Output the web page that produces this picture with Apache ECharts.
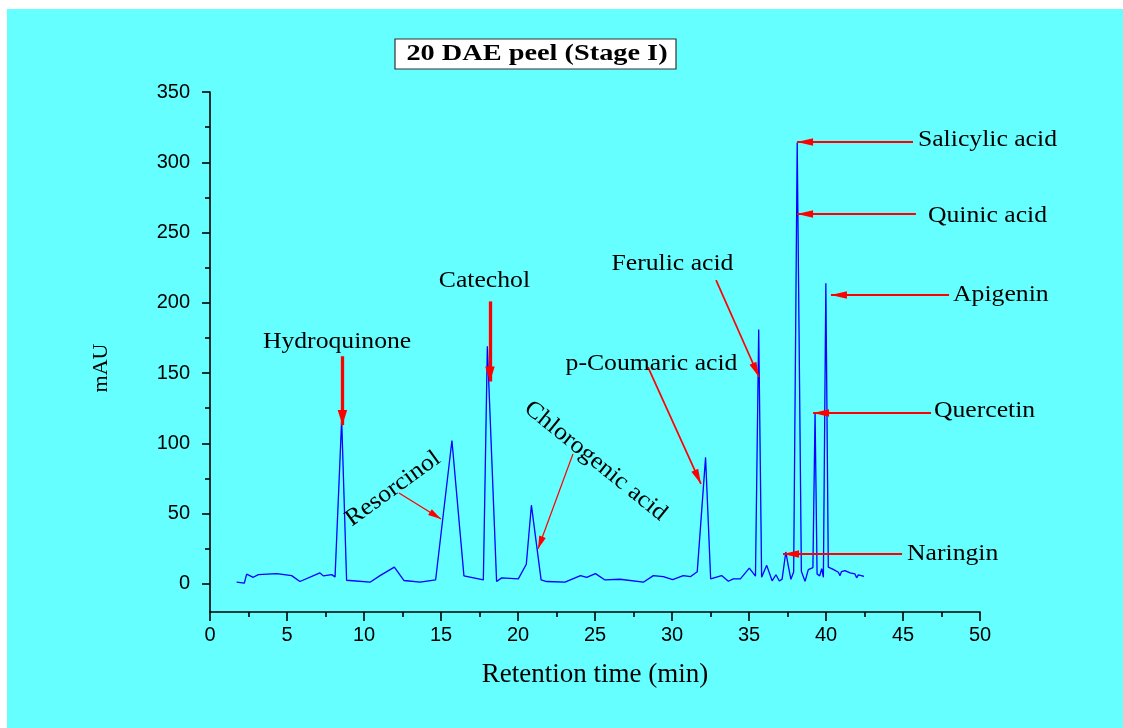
<!DOCTYPE html>
<html>
<head>
<meta charset="utf-8">
<title>20 DAE peel (Stage I)</title>
<script src="https://cdn.jsdelivr.net/npm/echarts@6/dist/echarts.min.js"></script>
<style>
  html, body { margin: 0; padding: 0; background: #ffffff; }
  #wrap { position: relative; width: 1123px; height: 728px; background: #ffffff; overflow: hidden; }
  #panel { position: absolute; left: 7px; top: 9px; right: 0; bottom: 0; background: #66ffff; }
  #chart { position: absolute; left: 0; top: 0; width: 1123px; height: 728px; }
</style>
</head>
<body>
<div id="wrap">
  <div id="panel"></div>
  <div id="chart"></div>
</div>
<script>
// HPLC trace: retention time (min) and detector response (mAU)
const retentionTime = [
  1.73, 2.23, 2.38, 2.81, 3.14, 4.33, 5.30, 5.84, 7.14, 7.36,
  7.90, 8.12, 8.55, 8.87, 10.39, 11.04, 11.97, 12.60, 13.64, 14.65,
  15.71, 16.49, 17.75, 18.01, 18.61, 18.94, 20.02, 20.54, 20.87, 21.50,
  21.86, 23.05, 24.06, 24.46, 25.03, 25.65, 26.62, 28.14, 28.79, 29.44,
  30.04, 30.73, 31.21, 31.64, 32.18, 32.51, 33.22, 33.66, 33.98, 34.44,
  35.02, 35.42, 35.63, 35.82, 36.15, 36.50, 36.75, 36.97, 37.15, 37.39,
  37.55, 37.72, 37.90, 38.13, 38.40, 38.64, 38.85, 39.15, 39.29, 39.42,
  39.59, 39.72, 39.83, 39.99, 40.15, 40.47, 40.80, 40.91, 41.00, 41.23,
  41.56, 41.88, 41.99, 42.10, 42.47
];
const absorbance = [
  1.2, 0.5, 6.9, 4.7, 6.6, 7.3, 5.9, 1.7, 7.8, 5.7,
  6.6, 5.0, 117, 2.6, 1.2, 5.9, 11.9, 2.4, 1.2, 2.8,
  102, 5.7, 2.8, 169, 1.7, 4.3, 3.6, 14, 56, 2.8,
  1.7, 1.2, 5.9, 4.7, 7.3, 2.8, 3.3, 1.2, 5.9, 5.2,
  3.1, 5.9, 5.2, 8.7, 90, 3.6, 5.9, 1.9, 3.6, 3.6,
  11.2, 5.5, 181, 4.7, 13.2, 2.2, 6.5, 2.1, 3.4, 22.7,
  13, 3.3, 8.5, 314, 9, 1.8, 10.2, 11.6, 122, 7.1,
  5.7, 10.9, 4.7, 214, 11.9, 10.3, 8.3, 5.9, 8.7, 9.5,
  7.8, 7.1, 4.3, 6.4, 5.4
];

// Axis tick values
const yMajorTicks = [0, 50, 100, 150, 200, 250, 300, 350];
const yMinorTicks = [25, 75, 125, 175, 225, 275, 325];

// Peak assignments in (min, mAU): label anchor, arrow tail, arrow tip
const compounds = [
  'Hydroquinone', 'Catechol', 'Resorcinol', 'Chlorogenic acid', 'p-Coumaric acid',
  'Ferulic acid', 'Salicylic acid', 'Quinic acid', 'Apigenin', 'Quercetin', 'Naringin'
];
const labelAnchor = [
  [8.25, 172], [17.82, 215.5], [11.88, 67.6], [25.03, 87.5], [28.67, 156.5],
  [30.03, 227.6], [45.97, 315.8], [46.62, 261.7], [48.25, 205.5], [47.01, 123], [45.26, 21.3]
];
const arrowTail = [
  [8.6, 162], [18.18, 201], [12.27, 64.7], [23.57, 92.5], [28.44, 154.3],
  [32.86, 216.2], [45.65, 314.4], [45.84, 263.2], [47.99, 205.5], [46.82, 121.6], [44.94, 21.3]
];
const arrowTip = [
  [8.6, 113], [18.18, 144], [15.0, 46.2], [21.3, 24.9], [31.88, 71.1],
  [35.65, 147.2], [38.12, 314.4], [38.12, 263.2], [40.32, 205.5], [39.16, 121.6], [37.21, 21.3]
];

// Drawing styles for the annotations
const SERIF = '"Liberation Serif", "Times New Roman", serif';
const SANS = '"Liberation Sans", Arial, sans-serif';
const arrowKind = ['bold', 'bold', 'thin', 'thin', 'mid', 'mid', 'flat', 'flat', 'flat', 'flat', 'flat'];
const arrowLook = {
  bold: { width: 3.3, head: [9.5, 15] },
  mid:  { width: 1.7, head: [7.5, 15] },
  thin: { width: 1.3, head: [7, 13] },
  flat: { width: 1.8, head: [7.5, 16] }
};
const labelLook = {
  'Resorcinol':       { align: 'center', rotate: 36 },
  'Chlorogenic acid': { align: 'center', rotate: -39 },
  'Salicylic acid':   { align: 'left', rotate: 0 },
  'Quinic acid':      { align: 'left', rotate: 0 },
  'Apigenin':         { align: 'left', rotate: 0 },
  'Quercetin':        { align: 'left', rotate: 0 },
  'Naringin':         { align: 'left', rotate: 0 }
};

const chart = echarts.init(document.getElementById('chart'), null, { renderer: 'canvas' });

const axisBlack = { color: '#000000', width: 1.6 };

const option = {
  animation: false,
  backgroundColor: 'transparent',
  grid: { left: 210, right: 143, top: 92, bottom: 116, containLabel: false },
  xAxis: {
    type: 'value',
    min: 0,
    max: 50,
    interval: 5,
    name: 'Retention time (min)',
    nameLocation: 'middle',
    nameGap: 49,
    nameTextStyle: { fontFamily: SERIF, fontSize: 27, color: '#000000' },
    axisLine: { onZero: false, lineStyle: axisBlack },
    axisTick: { length: 9, lineStyle: axisBlack },
    minorTick: { show: true, splitNumber: 2, length: 5, lineStyle: axisBlack },
    axisLabel: { color: '#000000', fontFamily: SANS, fontSize: 20, margin: 13 },
    splitLine: { show: false },
    minorSplitLine: { show: false }
  },
  yAxis: [
    {
      type: 'value',
      min: -20,
      max: 350,
      name: 'mAU',
      nameLocation: 'middle',
      nameRotate: 90,
      nameGap: 98,
      nameTextStyle: { fontFamily: SERIF, fontSize: 22, color: '#000000', padding: [0, 32, 0, 0] },
      axisLine: { show: true, onZero: false, lineStyle: axisBlack },
      axisTick: { show: true, customValues: yMajorTicks, length: 8, lineStyle: axisBlack },
      axisLabel: { customValues: yMajorTicks, color: '#000000', fontFamily: SANS, fontSize: 20, margin: 20 },
      splitLine: { show: false }
    },
    {
      type: 'value',
      min: -20,
      max: 350,
      position: 'left',
      axisLine: { show: false, onZero: false },
      axisTick: { show: true, customValues: yMinorTicks, length: 5, lineStyle: axisBlack },
      axisLabel: { show: false },
      splitLine: { show: false }
    }
  ],
  series: [
    {
      name: 'mAU',
      type: 'line',
      xAxisIndex: 0,
      yAxisIndex: 0,
      data: retentionTime.map((t, i) => [t, absorbance[i]]),
      showSymbol: false,
      symbol: 'none',
      lineStyle: { color: '#0000ff', width: 1.3 },
      z: 3,
      markLine: {
        silent: true,
        animation: false,
        symbol: ['none', 'triangle'],
        label: { show: false },
        emphasis: { disabled: true },
        data: compounds.map((name, i) => {
          const look = arrowLook[arrowKind[i]];
          return [
            {
              coord: arrowTail[i],
              symbolSize: look.head,
              lineStyle: { color: '#ff0000', width: look.width, type: 'solid' },
              itemStyle: { color: '#ff0000' }
            },
            {
              coord: arrowTip[i],
              symbolSize: look.head,
              // pull the head back so its point sits on the tip
              symbolOffset: [0, '50%'],
              itemStyle: { color: '#ff0000' }
            }
          ];
        })
      }
    }
  ]
};

chart.setOption(option);

// Compound names and the boxed title, placed through the axis scales
function placeLabels() {
  const texts = compounds.map((name, i) => {
    const p = chart.convertToPixel({ xAxisIndex: 0, yAxisIndex: 0 }, labelAnchor[i]);
    const look = labelLook[name] || { align: 'center', rotate: 0 };
    return {
      type: 'text',
      x: p[0],
      y: p[1],
      rotation: look.rotate * Math.PI / 180,
      scaleX: 1.07,
      silent: true,
      z: 10,
      style: {
        text: name,
        font: '24px ' + SERIF,
        fill: '#000000',
        align: look.align,
        verticalAlign: 'middle'
      }
    };
  });
  const title = {
    type: 'group',
    x: 535.5,
    y: 54,
    z: 10,
    children: [
      {
        type: 'rect',
        shape: { x: -140.5, y: -15, width: 281, height: 30 },
        style: { fill: '#ffffff', stroke: '#333333', lineWidth: 1.2 }
      },
      {
        type: 'text',
        x: 1.5,
        y: 0,
        scaleX: 1.18,
        style: {
          text: '20 DAE peel (Stage I)',
          font: 'bold 24px ' + SERIF,
          fill: '#000000',
          align: 'center',
          verticalAlign: 'middle'
        }
      }
    ]
  };
  chart.setOption({ graphic: { elements: texts.concat([title]) } });
}
placeLabels();
</script>
</body>
</html>
